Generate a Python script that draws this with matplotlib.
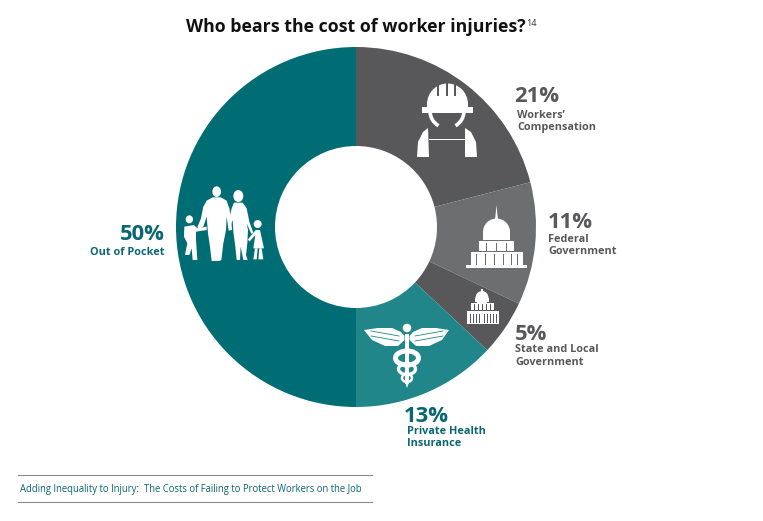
import matplotlib
matplotlib.use("Agg")
import matplotlib.pyplot as plt
from matplotlib.patches import Polygon, Ellipse, Rectangle, Wedge, Arc

plt.rcParams['font.family'] = ['Open Sans', 'DejaVu Sans']

categories = ["Workers’\nCompensation", "Federal\nGovernment", "State and Local\nGovernment",
              "Private Health\nInsurance", "Out of Pocket"]
values = [21, 11, 5, 13, 50]
colors = ['#58585A', '#6D6E70', '#58585A', '#21868A', '#006D75']
text_colors = ['#58585A', '#58585A', '#58585A', '#0A6670', '#0A6670']
title = "Who bears the cost of worker injuries?"
footer = "Adding Inequality to Injury:  The Costs of Failing to Protect Workers on the Job"

W, H = 763, 521
fig = plt.figure(figsize=(W/100, H/100), dpi=100, facecolor='white')

# donut
cx, cy, R = 356, 227, 180
ax = fig.add_axes([(cx-R)/W, (H-cy-R)/H, 2*R/W, 2*R/H])
ax.pie(values, colors=colors, startangle=90, counterclock=False, radius=1,
       wedgeprops=dict(width=1-81/180, edgecolor='none'))
ax.set_xlim(-1, 1); ax.set_ylim(-1, 1)

# overlay in pixels for icons and text
ov = fig.add_axes([0, 0, 1, 1], facecolor='none')
ov.set_xlim(0, W); ov.set_ylim(H, 0); ov.axis('off')
WHITE = 'white'

def rect(x0, y0, x1, y1, c=WHITE):
    ov.add_patch(Rectangle((x0, y0), x1-x0, y1-y0, fc=c, ec='none'))
def poly(pts, c=WHITE):
    ov.add_patch(Polygon(pts, closed=True, fc=c, ec='none'))
def ell(x, y, w, h, c=WHITE):
    ov.add_patch(Ellipse((x, y), w, h, fc=c, ec='none'))

# worker icon
D = colors[0]
ov.add_patch(Wedge((447.5, 104), 20.5, 180, 360, fc=WHITE, ec='none'))
rect(427, 103, 468, 108)
rect(422, 107, 473, 113)
for x in (438, 447, 455):
    rect(x-1, 83, x+1, 96, D)
ov.add_patch(Arc((447, 111), 34, 34, theta1=0, theta2=60, color=WHITE, lw=2.6))
ov.add_patch(Arc((447, 111), 34, 34, theta1=120, theta2=180, color=WHITE, lw=2.6))
poly([(417, 157), (418, 142), (423, 132), (428, 128), (429, 157)])
poly([(477, 157), (476, 142), (471, 132), (465, 128), (465, 157)])
rect(429, 138.5, 465, 140)

# large capitol icon
dark = colors[1]
x = 496.5
poly([(x-1.4, 219), (x, 205), (x+1.4, 219)])
ov.add_patch(Wedge((x, 232), 13.5, 180, 360, fc=WHITE, ec='none'))
rect(x-13.5, 231, x+13.5, 240)
rect(x-17.5, 241, x+17.5, 250.5)
rect(x-26, 251.5, x+26, 265)
rect(x-31, 265, x+30, 267.5)
for dx in (-10, 0, 10):
    rect(x+dx-.5, 243, x+dx+.5, 250.5, dark)
for dx in (-20, -11, -2, 7, 15, 21):
    rect(x+dx-.5, 254, x+dx+.5, 265, dark)

# small capitol icon
dk = colors[2]
ell(482, 298, 13, 14)
rect(481.4, 289, 482.6, 293)
rect(475, 298, 489, 301.5)
for x in (478, 482, 486):
    rect(x-.4, 296, x+.4, 300.5, dk)
rect(471, 302.5, 494, 310)
rect(467, 311, 499, 324)
for x in (474, 478, 482, 486, 490):
    rect(x-.5, 304, x+.5, 310, dk)
for x in (470, 473, 476, 479, 484, 487, 490, 493, 496):
    rect(x-.5, 314, x+.5, 323, dk)

# caduceus icon
T = colors[3]
ell(407, 328, 8.5, 8.5)
rect(405.2, 334, 408.8, 384)
poly([(404.5, 340), (398, 346), (385, 346), (372, 340), (364, 330), (378, 328),
      (392, 328), (401, 332), (404.5, 336)])
poly([(409.5, 340), (416, 346), (429, 346), (442, 340), (449, 330), (436, 328),
      (422, 328), (413, 332), (409.5, 336)])
for d in (0, 5):
    ov.plot([371, 399], [331+d, 336+d], color=T, lw=.6)
    ov.plot([443, 415], [331+d, 336+d], color=T, lw=.6)
ov.add_patch(Arc((407, 358), 23, 14, theta1=0, theta2=360, color=WHITE, lw=3.6))
ov.add_patch(Arc((407, 369), 17, 11, theta1=0, theta2=360, color=WHITE, lw=2.4))
ov.add_patch(Arc((407, 378), 10, 8, theta1=0, theta2=360, color=WHITE, lw=1.8))
poly([(405, 382), (409, 382), (407, 388)])

def z(pts):
    return [(90 + px/3, 180 + py/3) for px, py in pts]
father = [(350,62),(368,52),(392,52),(410,62),(418,85),(424,120),(426,150),(416,152),(410,110),
          (408,150),(400,190),(394,240),(388,243),(365,243),(360,200),(354,160),(350,110),
          (340,140),(328,148),(322,142),(333,115),(340,80)]
mother = [(432,68),(458,68),(470,85),(478,125),(490,158),(484,162),(470,130),(474,150),(472,190),
          (468,225),(473,240),(460,240),(452,200),(450,240),(440,240),(436,200),(430,155),
          (428,120),(418,145),(416,125),(425,85)]
boy = [(283,140),(312,135),(322,145),(350,140),(350,150),(318,155),(318,180),(322,240),(308,240),
       (305,205),(298,225),(285,225),(292,190),(282,170)]
girl = [(497,150),(510,150),(522,205),(490,205),(496,165),(478,185),(474,178)]
girl_l1 = [(495,205),(503,205),(500,238),(490,238)]
girl_l2 = [(508,205),(515,205),(520,238),(505,238)]
for shape in (father, mother, boy, girl, girl_l1, girl_l2):
    poly(z(shape))
for hx, hy, rx, ry in ((380,35,13,16), (445,48,15,18), (298,118,11,12), (503,132,12,12)):
    (px, py), = z([(hx, hy)])
    ell(px, py, 2*rx/3, 2*ry/3)

# labels
def label(x, y_pct, y_cat, pct, name, c, ha='left', xc=None):
    ov.text(x, y_pct, f"{pct}%", color=c, fontsize=15.8, fontweight='bold', ha=ha, va='center')
    ov.text(x if xc is None else xc, y_cat, name, color=c, fontsize=7.8, fontweight='bold',
            ha=ha, va='center', linespacing=1.22)

label(514, 97, 121.5, values[0], categories[0], text_colors[0], xc=517)
label(548, 222, 245.5, values[1], categories[1], text_colors[1])
label(515, 334, 356, values[2], categories[2], text_colors[2])
label(404, 416, 437.5, values[3], categories[3], text_colors[3], xc=407)
label(165, 235, 252.5, values[4], categories[4], text_colors[4], ha='right')

# title
ov.text(186, 27, title, color='#111111', fontsize=12.75, fontweight='bold', ha='left', va='center')
ov.text(526, 23.5, "14", color='#333333', fontsize=6.5, ha='left', va='center')

# footer
for y in (475, 502):
    ov.plot([18, 372], [y, y], color='#8A8A8A', lw=.8)
ov.text(20, 489.5, footer, color='#0A6670', fontsize=6.88, ha='left', va='center')

fig.savefig('out.png', dpi=100)
